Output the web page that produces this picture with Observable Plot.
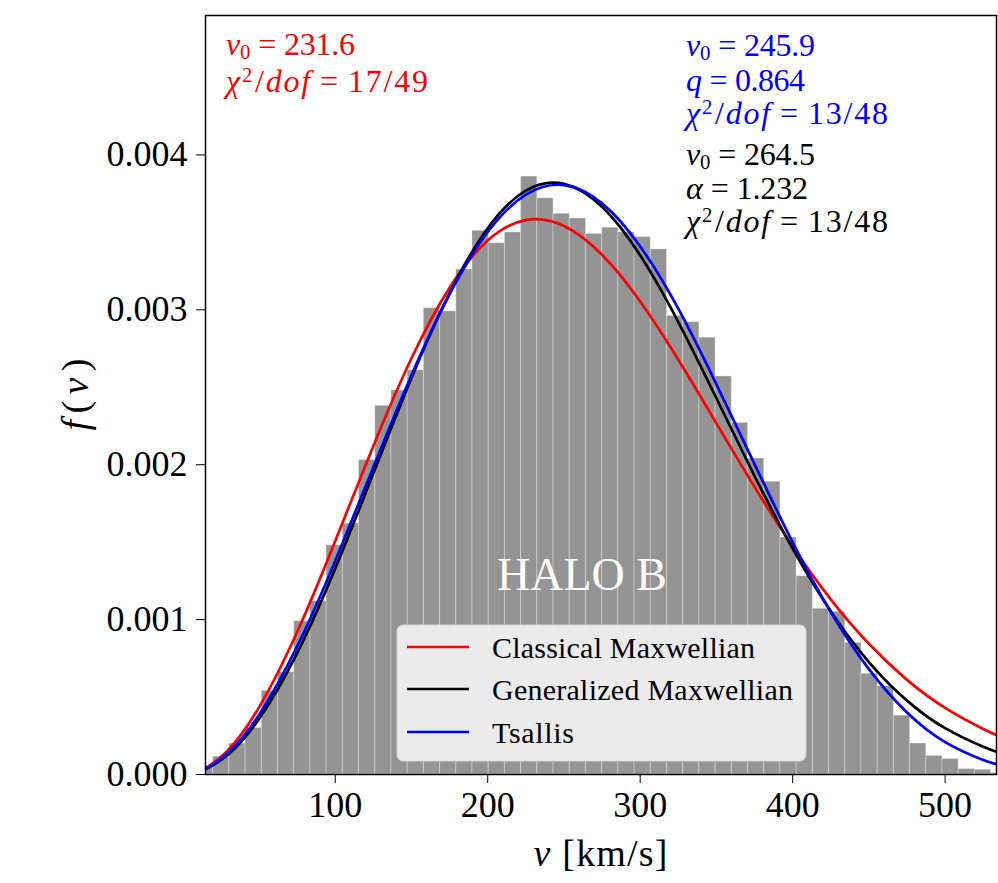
<!DOCTYPE html>
<html><head><meta charset="utf-8">
<script src="https://cdn.jsdelivr.net/npm/d3@7"></script>
<script src="https://cdn.jsdelivr.net/npm/@observablehq/plot@0.6"></script>
<style>html,body{margin:0;padding:0;background:#fff;} svg{display:block}</style>
</head><body><div id="chart"></div>
<script>
// Histogram bin edges (km/s) and normalised counts f(v)
const binEdges = [9.30, 19.93, 30.56, 41.19, 51.82, 62.45, 73.08, 83.71, 94.34, 104.97,
  115.60, 126.23, 136.86, 147.49, 158.12, 168.75, 179.38, 190.01, 200.64, 211.27,
  221.90, 232.53, 243.16, 253.79, 264.42, 275.05, 285.68, 296.31, 306.94, 317.57,
  328.20, 338.83, 349.46, 360.09, 370.72, 381.35, 391.98, 402.61, 413.24, 423.87,
  434.50, 445.13, 455.76, 466.39, 477.02, 487.65, 498.28, 508.91, 519.54, 530.17, 540.80];
const density = [0.00005, 0.000115, 0.00020, 0.00030, 0.00054, 0.00066, 0.00099, 0.00112, 0.00148, 0.00162,
  0.00203, 0.00238, 0.00248, 0.00261, 0.00301, 0.00299, 0.00326, 0.00351, 0.00343, 0.00350,
  0.00386, 0.00372, 0.00362, 0.00359, 0.00349, 0.00353, 0.00350, 0.00347, 0.00339, 0.00296,
  0.00292, 0.00282, 0.00257, 0.00227, 0.00204, 0.00189, 0.00153, 0.00128, 0.00107, 0.00105,
  0.00085, 0.00065, 0.00057, 0.00038, 0.00020, 0.00012, 0.00010, 0.000035, 0.00003, 0.00001];

// Fitted curves read along v
const curveV = [15, 30, 50, 75, 100, 125, 150, 175, 200, 225, 250, 275, 300, 325, 350, 375, 400, 425, 450, 475, 500, 525, 535];
const classical = [0.0000407, 0.0001608, 0.0004335, 0.000920, 0.001508, 0.002121, 0.002687, 0.003143, 0.003447, 0.003579, 0.003541, 0.003355,
  0.003054, 0.002678, 0.002267, 0.001857, 0.001472, 0.001131, 0.000844, 0.000611, 0.000430, 0.000294, 0.000250];
const generalized = [0.0000328, 0.0001305, 0.0003582, 0.0007835, 0.001330, 0.001944, 0.002560, 0.003108, 0.003527, 0.003769, 0.003813, 0.003665,
  0.003352, 0.002921, 0.002429, 0.001927, 0.001459, 0.001054, 0.000726, 0.000477, 0.000299, 0.000179, 0.000143];
const tsallis = [0.0000357, 0.0001416, 0.0003844, 0.0008268, 0.001379, 0.001984, 0.002578, 0.003101, 0.003502, 0.003743, 0.003805, 0.003687,
  0.003409, 0.003007, 0.002519, 0.002004, 0.001499, 0.001049, 0.000680, 0.000400, 0.000209, 0.000094, 0.000064];

const seriesNames = ["Classical Maxwellian", "Generalized Maxwellian", "Tsallis"];
const seriesColors = ["#ff0000", "#000000", "#0000ff"];
const xTicks = [100, 200, 300, 400, 500];
const yTicks = [0, 0.001, 0.002, 0.003, 0.004];

const bins = density.map((d, i) => ({x1: binEdges[i], x2: binEdges[i + 1], y: d}));
const seriesValues = [classical, generalized, tsallis];
const lines = seriesValues.map(vals => curveV.map((v, i) => ({v, f: vals[i]})));

const SERIF = "'Liberation Serif', 'Times New Roman', serif";

const plot = Plot.plot({
  width: 998, height: 883,
  marginLeft: 205, marginRight: 2, marginTop: 15, marginBottom: 109,
  style: {fontFamily: SERIF, fontSize: "36px", color: "black", background: "white"},
  x: {domain: [14.9, 533.7], ticks: xTicks, tickSize: 9, tickPadding: 8, label: null},
  y: {domain: [0, 0.0049], ticks: yTicks, tickFormat: d3.format(".3f"), tickSize: 9, tickPadding: 9, label: null},
  marks: [
    Plot.rectY(bins, {x1: "x1", x2: "x2", y: "y", fill: "#949494", stroke: "#ffffff", strokeOpacity: 0.3, strokeWidth: 1, clip: true}),
    ...lines.map((L, k) => Plot.line(L, {x: "v", y: "f", stroke: seriesColors[k], strokeWidth: 2.7, curve: "natural", clip: true})),
    Plot.frame({stroke: "black", strokeWidth: 1.5})
  ]
});
document.getElementById("chart").appendChild(plot);

const svg = d3.select(plot);
function mathText(g, x, y, color, size, segs, anchor, len) {
  const t = g.append("text").attr("x", x).attr("y", y).attr("fill", color)
    .attr("font-size", size).attr("font-family", SERIF).attr("text-anchor", anchor || "start");
  if (len) t.attr("textLength", len).attr("lengthAdjust", "spacing");
  let shift = 0;
  for (const s of segs) {
    const ts = t.append("tspan");
    const target = s.sub ? 0.12 * size : s.sup ? -0.3 * size : 0;
    const dy = target - shift; shift = target;
    if (dy) ts.attr("dy", dy);
    if (s.dx) ts.attr("dx", s.dx * size);
    if (s.sub || s.sup) ts.attr("font-size", size * 0.65);
    if (s.it) ts.attr("font-style", "italic");
    ts.text(s.t);
  }
  return t;
}
const ann = svg.append("g");
const fs = 32;
const v0 = val => [{t: "v", it: 1}, {t: "0", sub: 1}, {t: "=", dx: 0.25}, {t: val, dx: 0.25}];
const chi = val => [{t: "χ", it: 1}, {t: "2", sup: 1}, {t: "/", dx: 0.03}, {t: "dof", it: 1}, {t: "=", dx: 0.25}, {t: val, dx: 0.25}];
mathText(ann, 226, 55, "#ff0000", fs, v0("231.6"), null, 129);
mathText(ann, 226, 92, "#ff0000", fs, chi("17/49"), null, 202);
mathText(ann, 686, 56, "#0000ff", fs, v0("245.9"), null, 129);
mathText(ann, 686, 91, "#0000ff", fs, [{t: "q", it: 1}, {t: "=", dx: 0.25}, {t: "0.864", dx: 0.25}], null, 119);
mathText(ann, 686, 124, "#0000ff", fs, chi("13/48"), null, 202);
mathText(ann, 686, 165, "#000000", fs, v0("264.5"), null, 129);
mathText(ann, 686, 199, "#000000", fs, [{t: "α", it: 1}, {t: "=", dx: 0.25}, {t: "1.232", dx: 0.25}], null, 122);
mathText(ann, 686, 232, "#000000", fs, chi("13/48"), null, 202);

// axis labels
mathText(ann, 600.5, 866, "#000", 38, [{t: "v", it: 1}, {t: " [km/s]"}], "middle", 134);
const yl = mathText(ann, 0, 0, "#000", 38, [{t: "f", it: 1}, {t: "("}, {t: "v", it: 1}, {t: ")"}], "middle", 72);
yl.attr("transform", "translate(88,394.5) rotate(-90)");

// HALO B
ann.append("text").attr("x", 582).attr("y", 590).attr("text-anchor", "middle")
  .attr("fill", "#ffffff").attr("font-size", 46).attr("font-family", SERIF).text("HALO B");

// legend
const lg = svg.append("g");
lg.append("rect").attr("x", 397).attr("y", 625).attr("width", 409).attr("height", 136).attr("rx", 6)
  .attr("fill", "#ebebeb").attr("stroke", "#d4d4d4").attr("stroke-width", 1);
const ly = [647, 689, 732];
const lw = [263, 301, 82];
seriesNames.forEach((n, i) => {
  lg.append("line").attr("x1", 407).attr("x2", 469).attr("y1", ly[i]).attr("y2", ly[i])
    .attr("stroke", seriesColors[i]).attr("stroke-width", 2.6);
  lg.append("text").attr("x", 492).attr("y", ly[i] + 11).attr("font-size", 30)
    .attr("font-family", SERIF).attr("text-anchor", "start").attr("fill", "#000")
    .attr("textLength", lw[i]).attr("lengthAdjust", "spacing").text(n);
});
</script>
</body></html>
